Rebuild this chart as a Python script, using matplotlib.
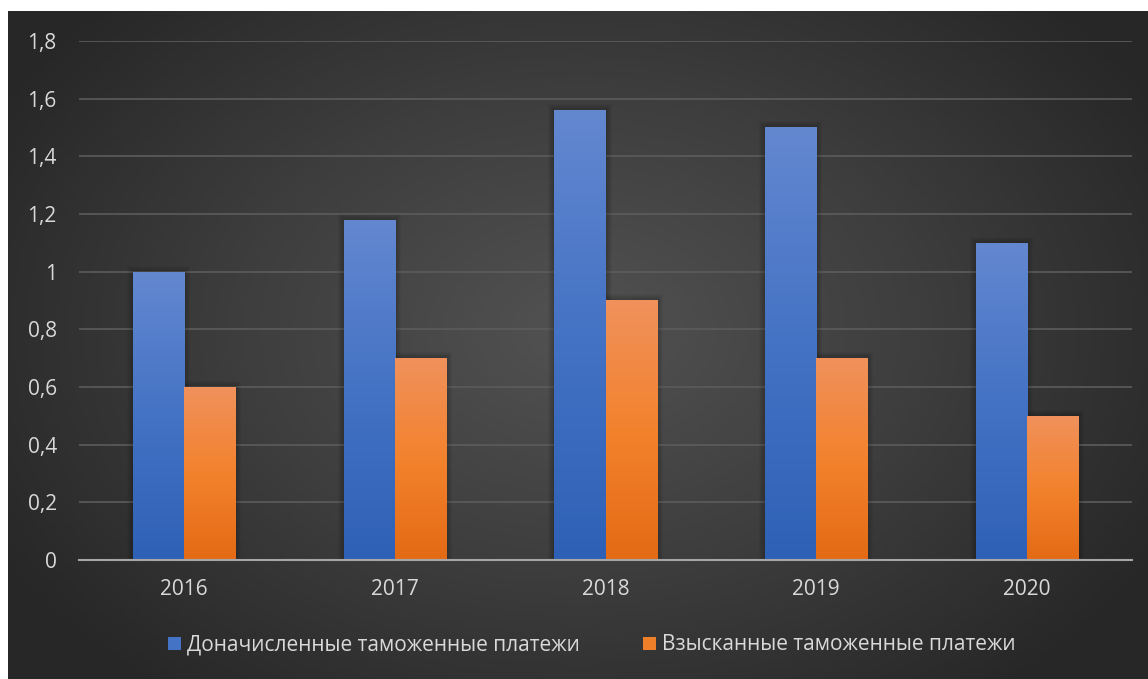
import numpy as np
import matplotlib
matplotlib.use("Agg")
import matplotlib.pyplot as plt
from matplotlib.colors import LinearSegmentedColormap
from matplotlib.patches import Patch

plt.rcParams['font.family'] = ['Open Sans', 'DejaVu Sans']

years = ["2016", "2017", "2018", "2019", "2020"]
assessed = [1.0, 1.18, 1.56, 1.5, 1.1]
collected = [0.6, 0.7, 0.9, 0.7, 0.5]
series_names = ["Доначисленные таможенные платежи", "Взысканные таможенные платежи"]
yticks = [0, 0.2, 0.4, 0.6, 0.8, 1.0, 1.2, 1.4, 1.6, 1.8]
ytick_labels = ["0", "0,2", "0,4", "0,6", "0,8", "1", "1,2", "1,4", "1,6", "1,8"]

W, H = 1148, 679
fig = plt.figure(figsize=(W / 100, H / 100), dpi=100)
fig.patch.set_facecolor("white")

# dark radial background
bg = fig.add_axes([8 / W, 0, 1 - 8 / W, 1 - 11 / H])
bg.set_axis_off()
yy, xx = np.mgrid[0:200, 0:340]
cx, cy = 170, 95
r = np.sqrt(((xx - cx) / 200.0) ** 2 + ((yy - cy) / 140.0) ** 2)
r = np.clip(r, 0, 1)
bg_cmap = LinearSegmentedColormap.from_list("bg", ["#525252", "#3e3e3e", "#272727"])
bg.imshow(r, cmap=bg_cmap, aspect="auto", extent=[0, 1, 0, 1], vmin=0, vmax=1)
bg.set_xlim(0, 1)
bg.set_ylim(0, 1)

ax = fig.add_axes([79 / W, 1 - 560 / H, (1132 - 79) / W, (560 - 41) / H])
ax.patch.set_alpha(0)
ax.set_xlim(-0.5, 4.5)
ax.set_ylim(0, 1.8)

x = np.arange(len(years))
width = 0.243
blue_cmap = LinearSegmentedColormap.from_list("b", ["#2e61b6", "#4472c4", "#6388d0"])
orange_cmap = LinearSegmentedColormap.from_list("o", ["#e46a15", "#f3822d", "#f0915c"])

px_x = 5.0 / (1132 - 79)
px_y = 1.8 / (560 - 41)
grad = np.linspace(0, 1, 256).reshape(-1, 1)
for vals, offset, cmap in [(assessed, -width / 2, blue_cmap), (collected, width / 2, orange_cmap)]:
    bars = ax.bar(x + offset, vals, width, color="none", zorder=3)
    for b in bars:
        x0, y0 = b.get_x(), b.get_y()
        w, h = b.get_width(), b.get_height()
        # soft shadow
        for n in range(1, 7):
            ax.add_patch(plt.Rectangle((x0 - n * px_x, y0), w + 2 * n * px_x, h + n * px_y,
                                       color="black", alpha=0.035, lw=0, zorder=2))
        im = ax.imshow(grad, cmap=cmap, origin="lower", aspect="auto",
                       extent=[x0, x0 + w, y0, y0 + h], zorder=3)
        im.set_clip_path(b)
ax.set_xlim(-0.5, 4.5)
ax.set_ylim(0, 1.8)

ax.set_yticks(yticks)
ax.set_yticklabels(ytick_labels)
ax.set_xticks(x)
ax.set_xticklabels(years)
ax.tick_params(length=0, colors="#d9d9d9", labelsize=15)
ax.tick_params(axis="y", pad=16)
ax.tick_params(axis="x", pad=14)
ax.grid(axis="y", color="#5c5c5c", lw=1.2, zorder=1)
for s in ["top", "right", "left"]:
    ax.spines[s].set_visible(False)
ax.spines["bottom"].set_color("#a6a6a6")
ax.spines["bottom"].set_linewidth(1.5)
ax.spines["bottom"].set_zorder(4)

handles = [Patch(facecolor="#4472c4"), Patch(facecolor="#f07f2a")]
fig.legend(handles, series_names, loc="center", bbox_to_anchor=(592 / W, 1 - 645 / H),
           ncol=2, frameon=False, fontsize=15, labelcolor="#d9d9d9",
           handlelength=0.6, handleheight=0.6, handletextpad=0.3, columnspacing=3.05)

fig.savefig("out.png", dpi=100, facecolor=fig.get_facecolor())
